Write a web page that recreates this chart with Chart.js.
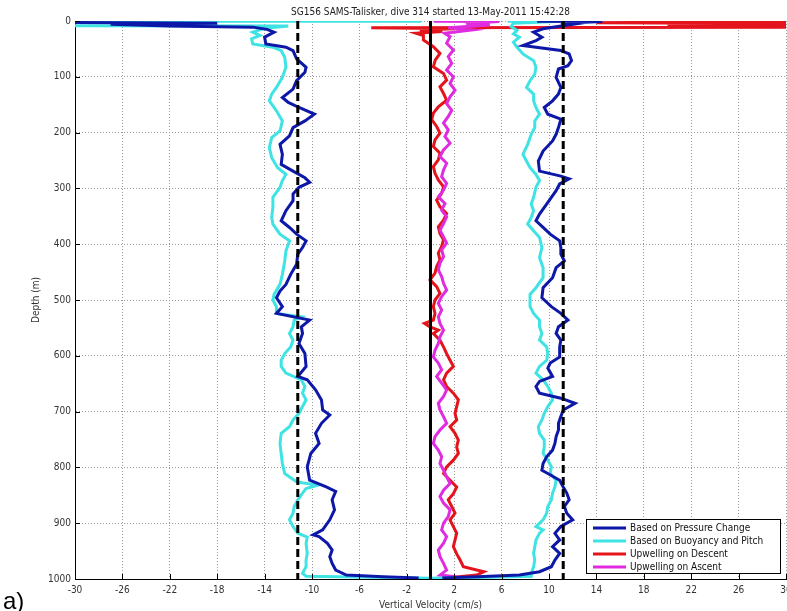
<!DOCTYPE html>
<html><head><meta charset="utf-8">
<script src="https://cdn.jsdelivr.net/npm/chart.js@4/dist/chart.umd.min.js"></script>
<style>html,body{margin:0;padding:0;background:#fff;overflow:hidden}#wrap{width:787px;height:611px;position:relative}</style>
</head><body><div id="wrap"><canvas id="c" width="787" height="611"></canvas></div>
<script>
const chartTitle = 'SG156 SAMS-Talisker, dive 314 started 13-May-2011 15:42:28';
const xTitle = 'Vertical Velocity (cm/s)';
const yTitle = 'Depth (m)';
const seriesNames = ['Based on Pressure Change', 'Based on Buoyancy and Pitch', 'Upwelling on Descent', 'Upwelling on Ascent'];
const xTickValues = [-30,-26,-22,-18,-14,-10,-6,-2,2,6,10,14,18,22,26,30];
const yTickValues = [0,100,200,300,400,500,600,700,800,900,1000];
const meanDescent = -11.2;
const meanAscent = 11.2;
const zeroLine = 0;

const blueDownDepth = [2,4,6,9,11,15,20,29,41,47,53,68,83,92,107,122,137,146,155,167,179,191,206,221,239,257,269,281,289,298,310,322,340,358,370,382,394,406,418,436,454,472,484,496,512,524,536,548,560,578,596,619,637,643,661,679,697,706,721,739,757,775,799,823,835,843,858,876,894,912,921,924,936,948,960,972,984,993,996,998];
const blueDownVel = [-40,-18,-27,-22,-15,-13.8,-13.2,-14.0,-13.9,-12.2,-11.6,-11.3,-10.5,-10.6,-11.3,-11.6,-12.5,-12.0,-11.1,-9.8,-10.6,-11.6,-11.9,-12.7,-12.5,-12.6,-11.6,-10.6,-10.2,-11.1,-11.6,-11.6,-12.2,-12.6,-11.9,-11.3,-10.5,-10.8,-11.2,-11.3,-11.8,-12.2,-12.7,-13.0,-12.5,-13.0,-10.2,-10.9,-10.8,-11.1,-10.6,-10.5,-11.2,-10.4,-9.7,-9.2,-9.1,-8.5,-9.2,-9.7,-9.4,-10.1,-10.4,-10.2,-8.8,-8.0,-8.3,-8.1,-8.5,-9.1,-9.9,-9.4,-8.7,-8.3,-8.5,-8.3,-8.0,-7.1,-4,-1];

const cyanDownDepth = [0.5,0.5,8,9,13,20,26,32,41,47,53,65,83,101,119,131,143,161,179,197,209,227,245,263,275,286,298,316,334,352,364,382,394,412,430,454,472,490,500,512,524,530,536,548,560,572,584,596,608,619,631,643,655,667,679,691,703,715,727,739,757,775,793,811,826,832,838,846,858,870,882,894,906,918,925,936,954,966,978,990,995,997,998.5];
const cyanDownVel = [-0.8,-40,-40,-12,-14,-15.0,-14.4,-15.1,-15.0,-13.3,-12.6,-12.3,-12.2,-12.5,-13.0,-13.4,-13.6,-13.0,-12.5,-12.7,-13.4,-13.6,-13.4,-12.9,-12.2,-12.5,-12.7,-13.3,-13.3,-13.4,-13.3,-12.7,-11.9,-12.2,-12.3,-12.5,-12.7,-13.2,-13.3,-13.0,-13.0,-10.9,-11.5,-11.6,-11.9,-11.6,-11.8,-12.3,-12.6,-12.6,-12.2,-10.9,-10.6,-10.8,-10.5,-10.8,-11.1,-11.6,-11.9,-12.6,-12.7,-12.6,-12.5,-12.3,-11.3,-9.5,-10.5,-10.8,-11.2,-11.5,-11.6,-11.9,-11.6,-11.2,-10.4,-10.5,-10.4,-10.5,-10.5,-10.8,-10.5,-5,0];

const blueUpDepth = [0.5,1,4,6,14,20,29,35,44,47,53,59,71,80,86,101,119,131,143,155,167,176,191,203,215,233,251,269,278,283,292,304,316,328,346,358,370,382,394,406,418,430,442,460,478,496,512,524,536,548,560,572,584,602,613,622,637,646,655,667,676,685,697,709,721,733,745,757,769,781,793,805,811,823,835,846,858,870,882,894,906,918,930,942,954,966,978,987,993,996,998];
const blueUpVel = [9,14.5,11,12,9.5,8.7,9.4,8.9,7.8,8.9,11.0,11.7,11.9,11.6,10.8,10.6,11.0,10.8,10.3,9.6,9.9,11.0,10.8,10.6,10.3,9.5,9.1,9.2,11.0,11.7,10.9,10.6,10.2,9.8,9.2,8.9,9.5,10.1,10.9,11.0,11.0,11.3,10.6,10.3,9.5,9.4,10.2,11.0,11.6,10.8,10.6,11.0,10.9,10.9,10.1,9.9,10.3,9.2,8.9,9.2,11.0,12.2,11.2,11.0,10.8,10.8,10.6,10.5,10.3,9.8,9.5,9.4,9.9,10.9,11.2,11.5,11.7,11.3,11.5,12.0,11.0,10.5,10.9,10.3,10.9,10.5,10.2,9.2,7.5,4,1];

const cyanUpDepth = [0.5,0.5,4,10,17,23,29,38,47,59,71,83,95,107,119,131,143,155,167,179,191,203,221,239,251,263,275,286,298,316,328,340,352,364,376,388,406,424,442,460,478,490,500,512,524,536,548,560,572,584,596,608,619,631,643,655,667,679,691,703,715,727,739,751,763,775,787,799,811,823,835,846,858,870,882,894,906,912,918,930,942,954,966,978,990,995,997,998.5];
const cyanUpVel = [6.5,11,7,6.8,7.3,7.0,7.5,7.0,7.3,7.8,8.7,8.9,8.8,8.4,8.1,8.7,8.7,8.9,9.2,8.8,8.8,8.5,8.2,7.8,8.1,8.4,8.9,9.2,8.9,8.7,8.5,8.7,8.5,8.2,8.7,9.2,9.4,9.2,9.5,9.5,8.9,8.4,8.4,8.4,8.7,9.2,9.2,9.4,9.2,9.8,9.9,9.8,9.2,8.9,9.5,9.9,10.2,10.3,9.9,9.6,9.4,9.1,9.2,9.6,9.6,9.5,9.9,10.2,10.1,10.6,10.5,10.3,10.2,9.9,9.8,9.5,8.9,9.5,9.2,8.9,8.8,8.7,8.8,8.7,8.5,8.5,5,0];

const redDownDepth = [1,3,5,7,9,11,12,14,16,19,22,26,34,46,58,70,82,94,106,118,130,142,154,165,177,189,201,213,225,237,249,261,273,285,297,309,321,333,345,357,369,381,392,404,416,428,440,452,464,476,488,500,512,524,536,542,548,554,560,572,584,596,608,619,631,643,655,667,679,691,703,715,727,739,751,763,775,787,799,811,823,835,847,858,870,882,894,906,918,930,942,955,966,978,987,993,997];
const redDownVel = [35,14,35,20,35,35,-5,2,-0.9,1,-1.2,-0.6,-0.6,0.24,0.8,0.4,0.24,1.1,1.36,0.8,1.1,1.36,0.66,0.24,0.1,0.52,0.8,0.38,0.24,0.8,0.66,0.24,0.38,0.66,1.1,0.94,0.52,0.8,1.36,1.1,0.66,0.8,1.1,0.94,0.66,0.8,0.52,0.38,-0.04,0.52,0.8,0.38,0.24,0.38,0.24,-0.5,-0.04,0.66,0.24,0.8,1.1,1.36,1.65,1.93,1.36,1.1,1.36,1.93,2.35,2.21,2.07,2.21,1.65,2.07,2.35,2.21,2.35,1.93,1.36,1.1,1.65,2.21,1.93,1.5,1.79,2.07,1.65,1.93,2.21,2.07,1.93,2.21,2.5,2.77,4.5,3.9,2];

const magUpDepth = [0.5,1,4,7,12,16,22,28,40,52,64,76,88,100,112,124,136,148,160,171,183,195,207,219,231,243,255,267,279,291,303,315,327,339,351,363,375,387,398,410,422,434,446,458,470,482,494,506,518,530,542,554,566,578,590,602,613,625,637,649,661,673,685,697,709,721,733,745,757,769,781,793,805,817,829,841,852,864,876,888,900,912,924,936,948,960,972,984,993,997];
const magUpVel = [0.3,5.8,3,5,1.5,3.5,1.2,1.65,1.36,1.93,1.5,1.79,1.36,1.93,1.65,2.07,1.65,1.36,1.79,1.5,1.1,1.5,1.22,1.65,1.1,0.8,1.36,1.1,0.94,1.36,1.1,0.66,1.22,0.94,1.36,1.1,0.8,1.1,1.36,0.94,1.1,0.8,0.66,0.94,1.1,1.36,0.94,0.66,0.94,0.66,0.8,1.1,0.8,0.66,0.38,0.24,0.66,0.94,0.52,0.94,1.36,1.1,0.66,0.8,1.1,1.36,0.8,0.38,0.24,0.66,0.94,0.8,1.1,1.36,1.65,1.1,0.8,1.1,1.65,1.5,1.1,0.94,1.36,1.1,0.66,0.8,1.1,1.36,0.8,2.5];

const BLUE = '#0d17a8', CYAN = '#3fe3e3', RED = '#e3141c', MAGENTA = '#e02ce0';
const FONT = "'Liberation Sans Narrow','DejaVu Sans Condensed','Liberation Sans',sans-serif";

const zip = (d, v) => d.map((y, i) => ({x: v[i], y: y}));
const vline = (x) => [{x: x, y: 0}, {x: x, y: 1000}];
const lineDs = (label, data, color, extra) => Object.assign({label, data, borderColor: color, backgroundColor: color, borderWidth: 3, showLine: true, pointRadius: 0, fill: false, tension: 0}, extra || {});

const datasets = [
  lineDs('zero', vline(zeroLine), '#000', {borderWidth: 3}),
  lineDs('meanDown', vline(meanDescent), '#000', {borderDash: [8, 4]}),
  lineDs('meanUp', vline(meanAscent), '#000', {borderDash: [8, 4]}),
  lineDs(seriesNames[0], zip(blueDownDepth, blueDownVel), BLUE, {legend: 0}),
  lineDs(seriesNames[0] + ' ascent', zip(blueUpDepth, blueUpVel), BLUE),
  lineDs(seriesNames[1], zip(cyanDownDepth, cyanDownVel), CYAN, {legend: 1}),
  lineDs(seriesNames[1] + ' ascent', zip(cyanUpDepth, cyanUpVel), CYAN),
  lineDs(seriesNames[3], zip(magUpDepth, magUpVel), MAGENTA, {legend: 3}),
  lineDs(seriesNames[2], zip(redDownDepth, redDownVel), RED, {legend: 2})
];

const legendPlugin = {
  id: 'boxLegend',
  afterDraw(chart) {
    const ctx = chart.ctx, ca = chart.chartArea;
    const items = chart.data.datasets.filter(d => d.legend !== undefined).sort((a, b) => a.legend - b.legend);
    const w = 194, h = 54;
    const x0 = ca.right - 200, y0 = ca.bottom - 60;
    ctx.save();
    ctx.fillStyle = '#fff';
    ctx.fillRect(x0, y0, w, h);
    ctx.strokeStyle = '#000';
    ctx.lineWidth = 1;
    ctx.strokeRect(x0 + 0.5, y0 + 0.5, w, h);
    ctx.font = '10px ' + FONT;
    ctx.textBaseline = 'middle';
    items.forEach((d, i) => {
      const y = y0 + 9 + i * 13;
      ctx.strokeStyle = d.borderColor;
      ctx.lineWidth = 3;
      ctx.beginPath(); ctx.moveTo(x0 + 7, y); ctx.lineTo(x0 + 40, y); ctx.stroke();
      ctx.fillStyle = '#111';
      ctx.fillText(d.label, x0 + 44, y);
    });
    ctx.restore();
  }
};

const decor = {
  id: 'decor',
  afterDraw(chart) {
    const ctx = chart.ctx, ca = chart.chartArea;
    const xs = chart.scales.x, ys = chart.scales.y;
    ctx.save();
    ctx.strokeStyle = '#000'; ctx.lineWidth = 1;
    ctx.beginPath();
    xTickValues.forEach(v => { const p = Math.round(xs.getPixelForValue(v)) + 0.5; ctx.moveTo(p, ca.bottom); ctx.lineTo(p, ca.bottom - 5); });
    yTickValues.forEach(v => { const p = Math.round(ys.getPixelForValue(v)) + 0.5; ctx.moveTo(ca.left, p); ctx.lineTo(ca.left + 5, p); });
    ctx.stroke();
    ctx.fillStyle = '#222';
    ctx.font = '10px ' + FONT;
    ctx.textAlign = 'center';
    ctx.textBaseline = 'middle';
    ctx.fillText(chartTitle, (ca.left + ca.right) / 2, 12);
    ctx.fillStyle = '#000';
    ctx.textAlign = 'left';
    ctx.font = '24px "Liberation Sans", Arial, sans-serif';
    ctx.textBaseline = 'alphabetic';
    ctx.fillText('a)', 3, 609);
    ctx.restore();
  }
};

new Chart(document.getElementById('c'), {
  type: 'scatter',
  data: {datasets},
  options: {
    responsive: false,
    animation: false,
    events: [],
    layout: {autoPadding: false, padding: {left: 0, right: 1, top: 21, bottom: 0}},
    plugins: {
      legend: {display: false},
      tooltip: {enabled: false},
      title: {display: false}
    },
    scales: {
      x: {
        type: 'linear', min: -30, max: 30,
        afterBuildTicks: s => { s.ticks = xTickValues.map(v => ({value: v})); },
        afterFit: s => { s.height = 32; s.paddingLeft = 0; s.paddingRight = 0; },
        ticks: {color: '#333', font: {family: FONT, size: 10}, padding: 5, maxRotation: 0, autoSkip: false, callback: v => String(v)},
        grid: {color: '#9a9a9a', lineWidth: 1, drawTicks: false},
        border: {display: true, color: '#000', width: 1, dash: [1, 2]},
        title: {display: true, text: xTitle, color: '#333', font: {family: FONT, size: 10}, padding: {top: 1, bottom: 0}}
      },
      y: {
        type: 'linear', reverse: true, min: 0, max: 1000,
        afterBuildTicks: s => { s.ticks = yTickValues.map(v => ({value: v})); },
        afterFit: s => { s.width = 75; s.paddingTop = 0; s.paddingBottom = 0; },
        ticks: {color: '#333', font: {family: FONT, size: 10}, padding: 4, autoSkip: false, callback: v => String(v)},
        grid: {color: '#9a9a9a', lineWidth: 1, drawTicks: false},
        border: {display: true, color: '#000', width: 1, dash: [1, 2]},
        title: {display: true, text: yTitle, color: '#333', font: {family: FONT, size: 10}, padding: {top: 30, bottom: 0}}
      }
    }
  },
  plugins: [legendPlugin, decor]
});
</script></body></html>
